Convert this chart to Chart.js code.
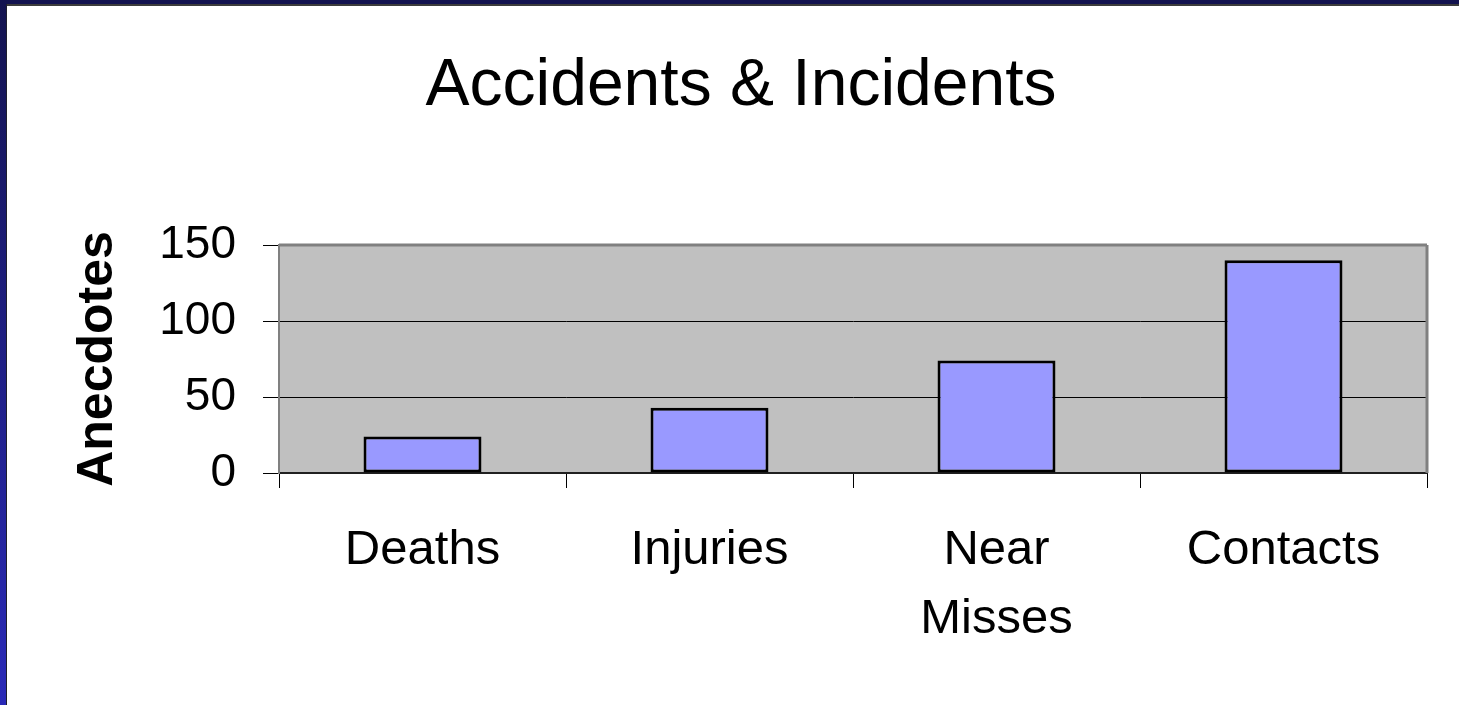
<!DOCTYPE html>
<html>
<head>
<meta charset="utf-8">
<script src="https://cdn.jsdelivr.net/npm/chart.js@4"></script>
<style>
  html, body { margin: 0; padding: 0; background: #ffffff; overflow: hidden; }
  #wrap { position: absolute; left: 0; top: 0; width: 1459px; height: 705px; }
  .frame { position: absolute; z-index: 5; }
  #topBand { left: 0; top: 0; width: 1459px; height: 4px; background: #13134f; }
  #topLine { left: 6px; top: 4px; width: 1453px; height: 2px; background: #3c3c3c; }
  #leftBand { left: 0; top: 0; width: 6px; height: 705px; background: linear-gradient(#13134f, #2a2ab8); }
  #leftLine { left: 6px; top: 4px; width: 1px; height: 701px; background: #1e1e2e; }
</style>
</head>
<body>
<div id="wrap"><canvas id="c"></canvas></div>
<div class="frame" id="topBand"></div>
<div class="frame" id="topLine"></div>
<div class="frame" id="leftBand"></div>
<div class="frame" id="leftLine"></div>
<script>
const chartTitle = 'Accidents & Incidents';
const yAxisTitle = 'Anecdotes';
const categories = ['Deaths', 'Injuries', ['Near', 'Misses'], 'Contacts'];
const anecdotes = [24, 43, 74, 140];
const yTicks = [0, 50, 100, 150];

const plotFrame = {
  id: 'plotFrame',
  beforeDraw(chart) {
    const { ctx, chartArea: a } = chart;
    ctx.save();
    ctx.fillStyle = '#c0c0c0';
    ctx.fillRect(a.left, a.top, a.right - a.left, a.bottom - a.top);
    ctx.restore();
  },
  beforeDatasetsDraw(chart) {
    const { ctx, chartArea: a } = chart;
    ctx.save();
    ctx.strokeStyle = '#808080';
    ctx.lineWidth = 3;
    ctx.beginPath();
    ctx.moveTo(a.left, a.top);
    ctx.lineTo(a.right, a.top);
    ctx.moveTo(a.right, a.top);
    ctx.lineTo(a.right, a.bottom);
    ctx.stroke();
    ctx.restore();
  }
};

new Chart(document.getElementById('c'), {
  type: 'bar',
  data: {
    labels: categories,
    datasets: [{
      data: anecdotes,
      backgroundColor: '#9999ff',
      borderColor: '#000000',
      borderWidth: 3,
      borderSkipped: false,
      categoryPercentage: 1,
      barPercentage: 0.411
    }]
  },
  options: {
    responsive: true,
    maintainAspectRatio: false,
    animation: false,
    events: [],
    layout: { padding: { left: 55, right: 32, top: 0, bottom: 0 } },
    plugins: {
      legend: { display: false },
      tooltip: { enabled: false },
      title: {
        display: true,
        text: chartTitle,
        color: '#000000',
        font: { family: '"Liberation Sans", Arial, sans-serif', size: 66, weight: 'normal', lineHeight: 1.2 },
        padding: { top: 47, bottom: 118.8 }
      }
    },
    scales: {
      x: {
        offset: true,
        grid: {
          display: true,
          offset: true,
          drawOnChartArea: false,
          drawTicks: true,
          tickLength: 15,
          tickColor: '#000000',
          tickWidth: 1
        },
        border: { display: true, color: '#202020', width: 2 },
        ticks: {
          color: '#000000',
          font: { family: '"Liberation Sans", Arial, sans-serif', size: 49, lineHeight: 1.41 },
          padding: 28,
          maxRotation: 0,
          minRotation: 0,
          autoSkip: false
        },
        afterFit(scale) { scale.height = 232; }
      },
      y: {
        min: yTicks[0],
        max: yTicks[yTicks.length - 1],
        afterBuildTicks(scale) { scale.ticks = yTicks.map(v => ({ value: v })); },
        grid: {
          color: (c) => (c.tick && (c.tick.value === 50 || c.tick.value === 100)) ? '#000000' : 'rgba(0,0,0,0)',
          lineWidth: 1,
          drawTicks: true,
          tickLength: 16,
          tickColor: '#000000',
          tickWidth: 1
        },
        border: { display: true, color: '#808080', width: 2 },
        ticks: {
          color: '#000000',
          font: { family: '"Liberation Sans", Arial, sans-serif', size: 46 },
          padding: 27
        },
        title: {
          display: true,
          text: yAxisTitle,
          color: '#000000',
          font: { family: '"Liberation Sans", Arial, sans-serif', size: 50, weight: 'bold', lineHeight: 1.2 },
          padding: { top: 13, bottom: 0 }
        },
        afterFit(scale) { scale.width = 224; }
      }
    }
  },
  plugins: [plotFrame]
});
</script>
</body>
</html>
